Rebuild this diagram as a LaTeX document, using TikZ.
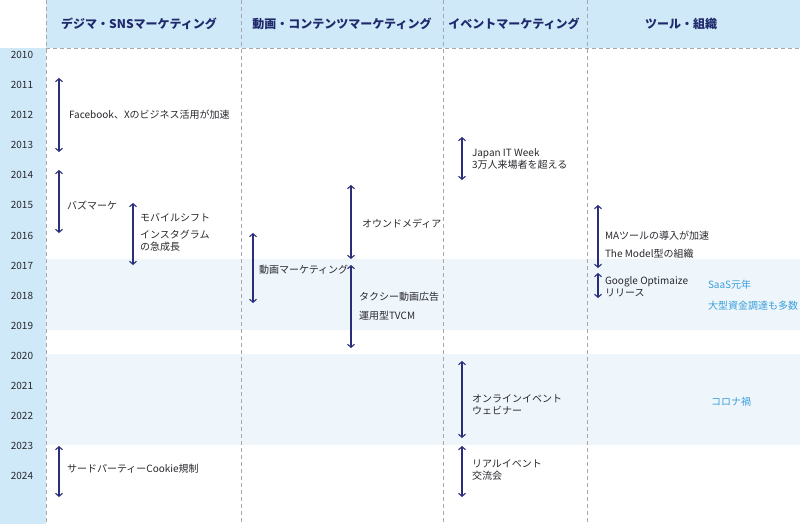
\documentclass[tikz,border=0pt]{standalone}
\usepackage{fontspec}
\setmainfont{Noto Sans CJK JP}
\usetikzlibrary{arrows.meta}
\definecolor{headblue}{RGB}{208,233,248}
\definecolor{bandblue}{RGB}{238,246,252}
\definecolor{headnavy}{RGB}{30,42,108}
\definecolor{spannavy}{RGB}{42,46,122}
\definecolor{bodygrey}{RGB}{40,40,45}
\definecolor{accentblue}{RGB}{56,158,218}
\definecolor{gridgrey}{RGB}{168,168,172}
\begin{document}
\begin{tikzpicture}[x=1pt,y=-1pt,
  every node/.style={inner sep=0pt, outer sep=0pt, font=\fontsize{10}{12}\selectfont, text=bodygrey},
  colhead/.style={font=\fontsize{12}{14}\selectfont\bfseries, text=headnavy},
  yearlbl/.style={font=\fontsize{10}{11}\selectfont},
  item/.style={anchor=west, align=left},
  accent/.style={text=accentblue},
  span/.style={draw=spannavy, line width=1.1pt, {Straight Barb[width=7pt,length=3pt]}-{Straight Barb[width=7pt,length=3pt]}},
  sep/.style={draw=gridgrey, line width=0.6pt, dash pattern=on 4pt off 3pt}]
\useasboundingbox (0,0) rectangle (800,524);
% backgrounds
\fill[headblue] (46,0) rectangle (800,48);
\fill[headblue] (0,48) rectangle (46,524);
\fill[bandblue] (46,259) rectangle (800,330);
\fill[bandblue] (46,354) rectangle (800,445);
\draw[sep] (46,48) -- (800,48);
\draw[sep] (46,0) -- (46,524);
\draw[sep] (241,0) -- (241,524);
\draw[sep] (443,0) -- (443,524);
\draw[sep] (587,0) -- (587,524);
% column heads
\node[colhead] (h-sns) at (139,24) {デジマ・SNSマーケティング};
\node[colhead] (h-video) at (342,24) {動画・コンテンツマーケティング};
\node[colhead] (h-event) at (514,24) {イベントマーケティング};
\node[colhead] (h-tool) at (681,24) {ツール・組織};
% years
\node[yearlbl] (y2010) at (22,55) {2010};
\node[yearlbl] (y2011) at (22,85) {2011};
\node[yearlbl] (y2012) at (22,115) {2012};
\node[yearlbl] (y2013) at (22,145) {2013};
\node[yearlbl] (y2014) at (22,175) {2014};
\node[yearlbl] (y2015) at (22,205) {2015};
\node[yearlbl] (y2016) at (22,236) {2016};
\node[yearlbl] (y2017) at (22,266) {2017};
\node[yearlbl] (y2018) at (22,296) {2018};
\node[yearlbl] (y2019) at (22,326) {2019};
\node[yearlbl] (y2020) at (22,356) {2020};
\node[yearlbl] (y2021) at (22,386) {2021};
\node[yearlbl] (y2022) at (22,416) {2022};
\node[yearlbl] (y2023) at (22,446) {2023};
\node[yearlbl] (y2024) at (22,476) {2024};
% span ends
\coordinate (fb-a) at (59,78);
\coordinate (fb-b) at (59,152);
\coordinate (buzz-a) at (59,170);
\coordinate (buzz-b) at (59,233);
\coordinate (mobile-a) at (133,203);
\coordinate (mobile-b) at (133,265);
\coordinate (cookie-a) at (59,446);
\coordinate (cookie-b) at (59,497);
\coordinate (movie-a) at (253,233);
\coordinate (movie-b) at (253,303);
\coordinate (owned-a) at (351,185);
\coordinate (owned-b) at (351,259);
\coordinate (taxi-a) at (351,265);
\coordinate (taxi-b) at (351,348);
\coordinate (itweek-a) at (462,137);
\coordinate (itweek-b) at (462,180);
\coordinate (online-a) at (462,361);
\coordinate (online-b) at (462,438);
\coordinate (real-a) at (462,446);
\coordinate (real-b) at (462,497);
\coordinate (ma-a) at (598,205);
\coordinate (ma-b) at (598,268);
\coordinate (opt-a) at (598,273);
\coordinate (opt-b) at (598,298);
\draw[span] (fb-a) -- (fb-b);
\draw[span] (buzz-a) -- (buzz-b);
\draw[span] (mobile-a) -- (mobile-b);
\draw[span] (cookie-a) -- (cookie-b);
\draw[span] (movie-a) -- (movie-b);
\draw[span] (owned-a) -- (owned-b);
\draw[span] (taxi-a) -- (taxi-b);
\draw[span] (itweek-a) -- (itweek-b);
\draw[span] (online-a) -- (online-b);
\draw[span] (real-a) -- (real-b);
\draw[span] (ma-a) -- (ma-b);
\draw[span] (opt-a) -- (opt-b);
% items
\node[item] (fb) at (69,115) {Facebook、Xのビジネス活用が加速};
\node[item] (buzz) at (67,205) {バズマーケ};
\node[item] (mobile) at (140,218) {モバイルシフト};
\node[item] (insta) at (140,240.5) {インスタグラム\\の急成長};
\node[item] (cookie) at (67,469) {サードパーティーCookie規制};
\node[item] (movie) at (259,270) {動画マーケティング};
\node[item] (owned) at (362,224) {オウンドメディア};
\node[item] (taxi) at (359,297) {タクシー動画広告};
\node[item] (tvcm) at (359,316) {運用型TVCM};
\node[item] (itweek) at (472,158.5) {Japan IT Week\\3万人来場者を超える};
\node[item] (online) at (472,405) {オンラインイベント\\ウェビナー};
\node[item] (real) at (472,470) {リアルイベント\\交流会};
\node[item] (ma) at (605,236) {MAツールの導入が加速};
\node[item] (model) at (605,254) {The Model型の組織};
\node[item] (opt) at (605,286.5) {Google Optimaize\\リリース};
\node[item,accent] (saas) at (708,285) {SaaS元年};
\node[item,accent] (fund) at (708,306) {大型資金調達も多数};
\node[accent] (corona) at (731,402) {コロナ禍};
\end{tikzpicture}
\end{document}
